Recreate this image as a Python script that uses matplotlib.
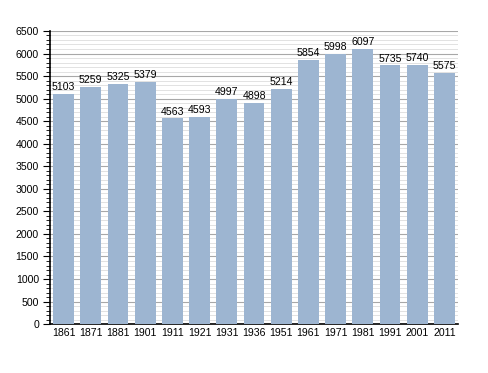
import matplotlib
matplotlib.use("Agg")
import matplotlib.pyplot as plt
from matplotlib.ticker import MultipleLocator

years = ["1861", "1871", "1881", "1901", "1911", "1921", "1931", "1936",
         "1951", "1961", "1971", "1981", "1991", "2001", "2011"]
population = [5103, 5259, 5325, 5379, 4563, 4593, 4997, 4898,
              5214, 5854, 5998, 6097, 5735, 5740, 5575]

plt.rcParams['font.family'] = ['Liberation Sans', 'DejaVu Sans']

fig = plt.figure(figsize=(4.88, 3.73), dpi=100)
ax = fig.add_axes([0.1025, 0.131, 0.836, 0.786])

x = list(range(len(years)))
ax.bar(x, population, width=0.76, color="#9db5d1", zorder=3)
for xi, v in zip(x, population):
    ax.text(xi, v + 40, str(v), ha="center", va="bottom", fontsize=7.6, zorder=4)

ax.set_xlim(-0.5, len(years) - 0.5)
ax.set_ylim(0, 6500)
ax.yaxis.set_major_locator(MultipleLocator(500))
ax.yaxis.set_minor_locator(MultipleLocator(100))
ax.set_xticks(x)
ax.set_xticklabels(years)
ax.tick_params(axis="x", length=0, labelsize=7.6, pad=3)
ax.tick_params(axis="y", which="major", length=5, width=0.8, labelsize=7.6, pad=3)
ax.tick_params(axis="y", which="minor", length=3, width=0.6)

ax.grid(axis="y", which="minor", color="#e2e2e2", linewidth=0.7, zorder=0)
ax.grid(axis="y", which="major", color="#a8a8a8", linewidth=0.8, zorder=1)

for s in ["top", "right"]:
    ax.spines[s].set_visible(False)
ax.spines["left"].set_linewidth(1.2)
ax.spines["bottom"].set_linewidth(1.2)

fig.savefig("out.png", dpi=100)
